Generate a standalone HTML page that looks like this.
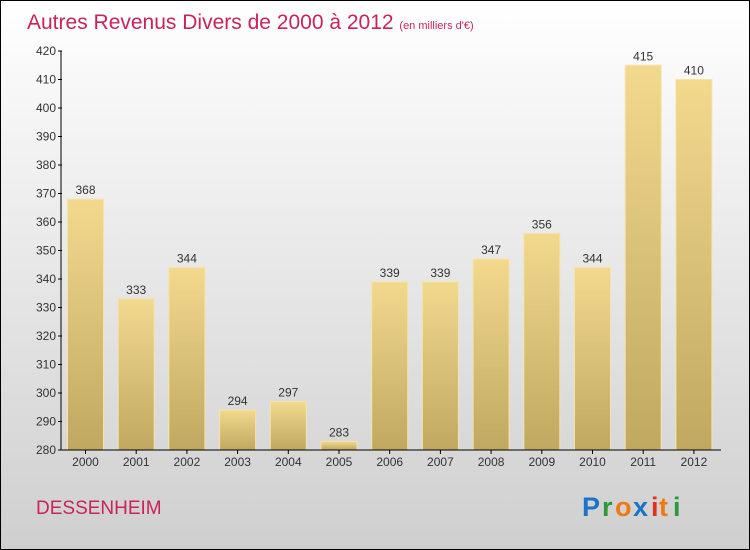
<!DOCTYPE html>
<html><head><meta charset="utf-8"><style>
body{margin:0;width:750px;height:550px;overflow:hidden}
svg{display:block;font-family:"Liberation Sans",sans-serif}
</style></head><body>
<svg width="750" height="550">
<defs>
<linearGradient id="bg" x1="0" y1="0" x2="0" y2="1"><stop offset="0" stop-color="#ffffff"/><stop offset="1" stop-color="#cfcfcf"/></linearGradient>
<linearGradient id="bar" x1="0" y1="0" x2="0" y2="1"><stop offset="0" stop-color="#f2d98e"/><stop offset="1" stop-color="#c0a860"/></linearGradient>
</defs>
<rect x="0.5" y="0.5" width="749" height="549" fill="url(#bg)" stroke="#000"/>
<text x="27" y="29" font-size="21" fill="#c8245a">Autres Revenus Divers de 2000 à 2012 <tspan font-size="11">(en milliers d'€)</tspan></text>
<g id="plot"></g>
<text x="36" y="514" font-size="19" fill="#c8245a">DESSENHEIM</text>
<g font-size="27" font-weight="bold">
<text x="582" y="516" fill="#1a73c8">P</text><text x="602" y="516" fill="#2a9a3a">r</text><text x="615" y="516" fill="#f07a10">o</text><text x="633" y="516" fill="#1a73c8">x</text><text x="651" y="516" fill="#e03020">i</text><text x="659" y="516" fill="#f07a10">t</text><text x="673" y="516" fill="#2a9a3a">i</text>
</g>
</svg>
<script>
const years=["2000","2001","2002","2003","2004","2005","2006","2007","2008","2009","2010","2011","2012"];
const values=[368,333,344,294,297,283,339,339,347,356,344,415,410];
const yTicks=[280,290,300,310,320,330,340,350,360,370,380,390,400,410,420];
const NS="http://www.w3.org/2000/svg";
const g=document.getElementById('plot');
const y=v=>450-(v-280)*(399/140);
const x=i=>85.5+i*50.7;
function el(t,a,p){const e=document.createElementNS(NS,t);for(const k in a)e.setAttribute(k,a[k]);(p||g).appendChild(e);return e;}
values.forEach((v,i)=>{
 const r=el('rect',{x:x(i)-18,y:y(v),width:36,height:450-y(v),fill:'url(#bar)',stroke:'#f5e4a8','stroke-width':1});
 
 
 const t=el('text',{x:x(i),y:y(v)-5,'font-size':12,'text-anchor':'middle',fill:'#333'});t.textContent=v;
 
 
 const xt=el('text',{x:x(i),y:466,'font-size':12,'text-anchor':'middle',fill:'#333'});xt.textContent=years[i];
 
 
 el('line',{x1:x(i),x2:x(i),y1:450,y2:454,stroke:'#000'});
});
yTicks.forEach(v=>{
 el('line',{x1:58,x2:62,y1:y(v),y2:y(v),stroke:'#000'});
 const t=el('text',{x:56,y:y(v)+4,'font-size':12,'text-anchor':'end',fill:'#333'});t.textContent=v;
 
 
});
const ya=el('line',{x1:61,x2:61,y1:y(420),y2:450,stroke:'#000'});


const xa=el('line',{x1:61,x2:721,y1:450,y2:450,stroke:'#000'});


</script>
</body></html>
